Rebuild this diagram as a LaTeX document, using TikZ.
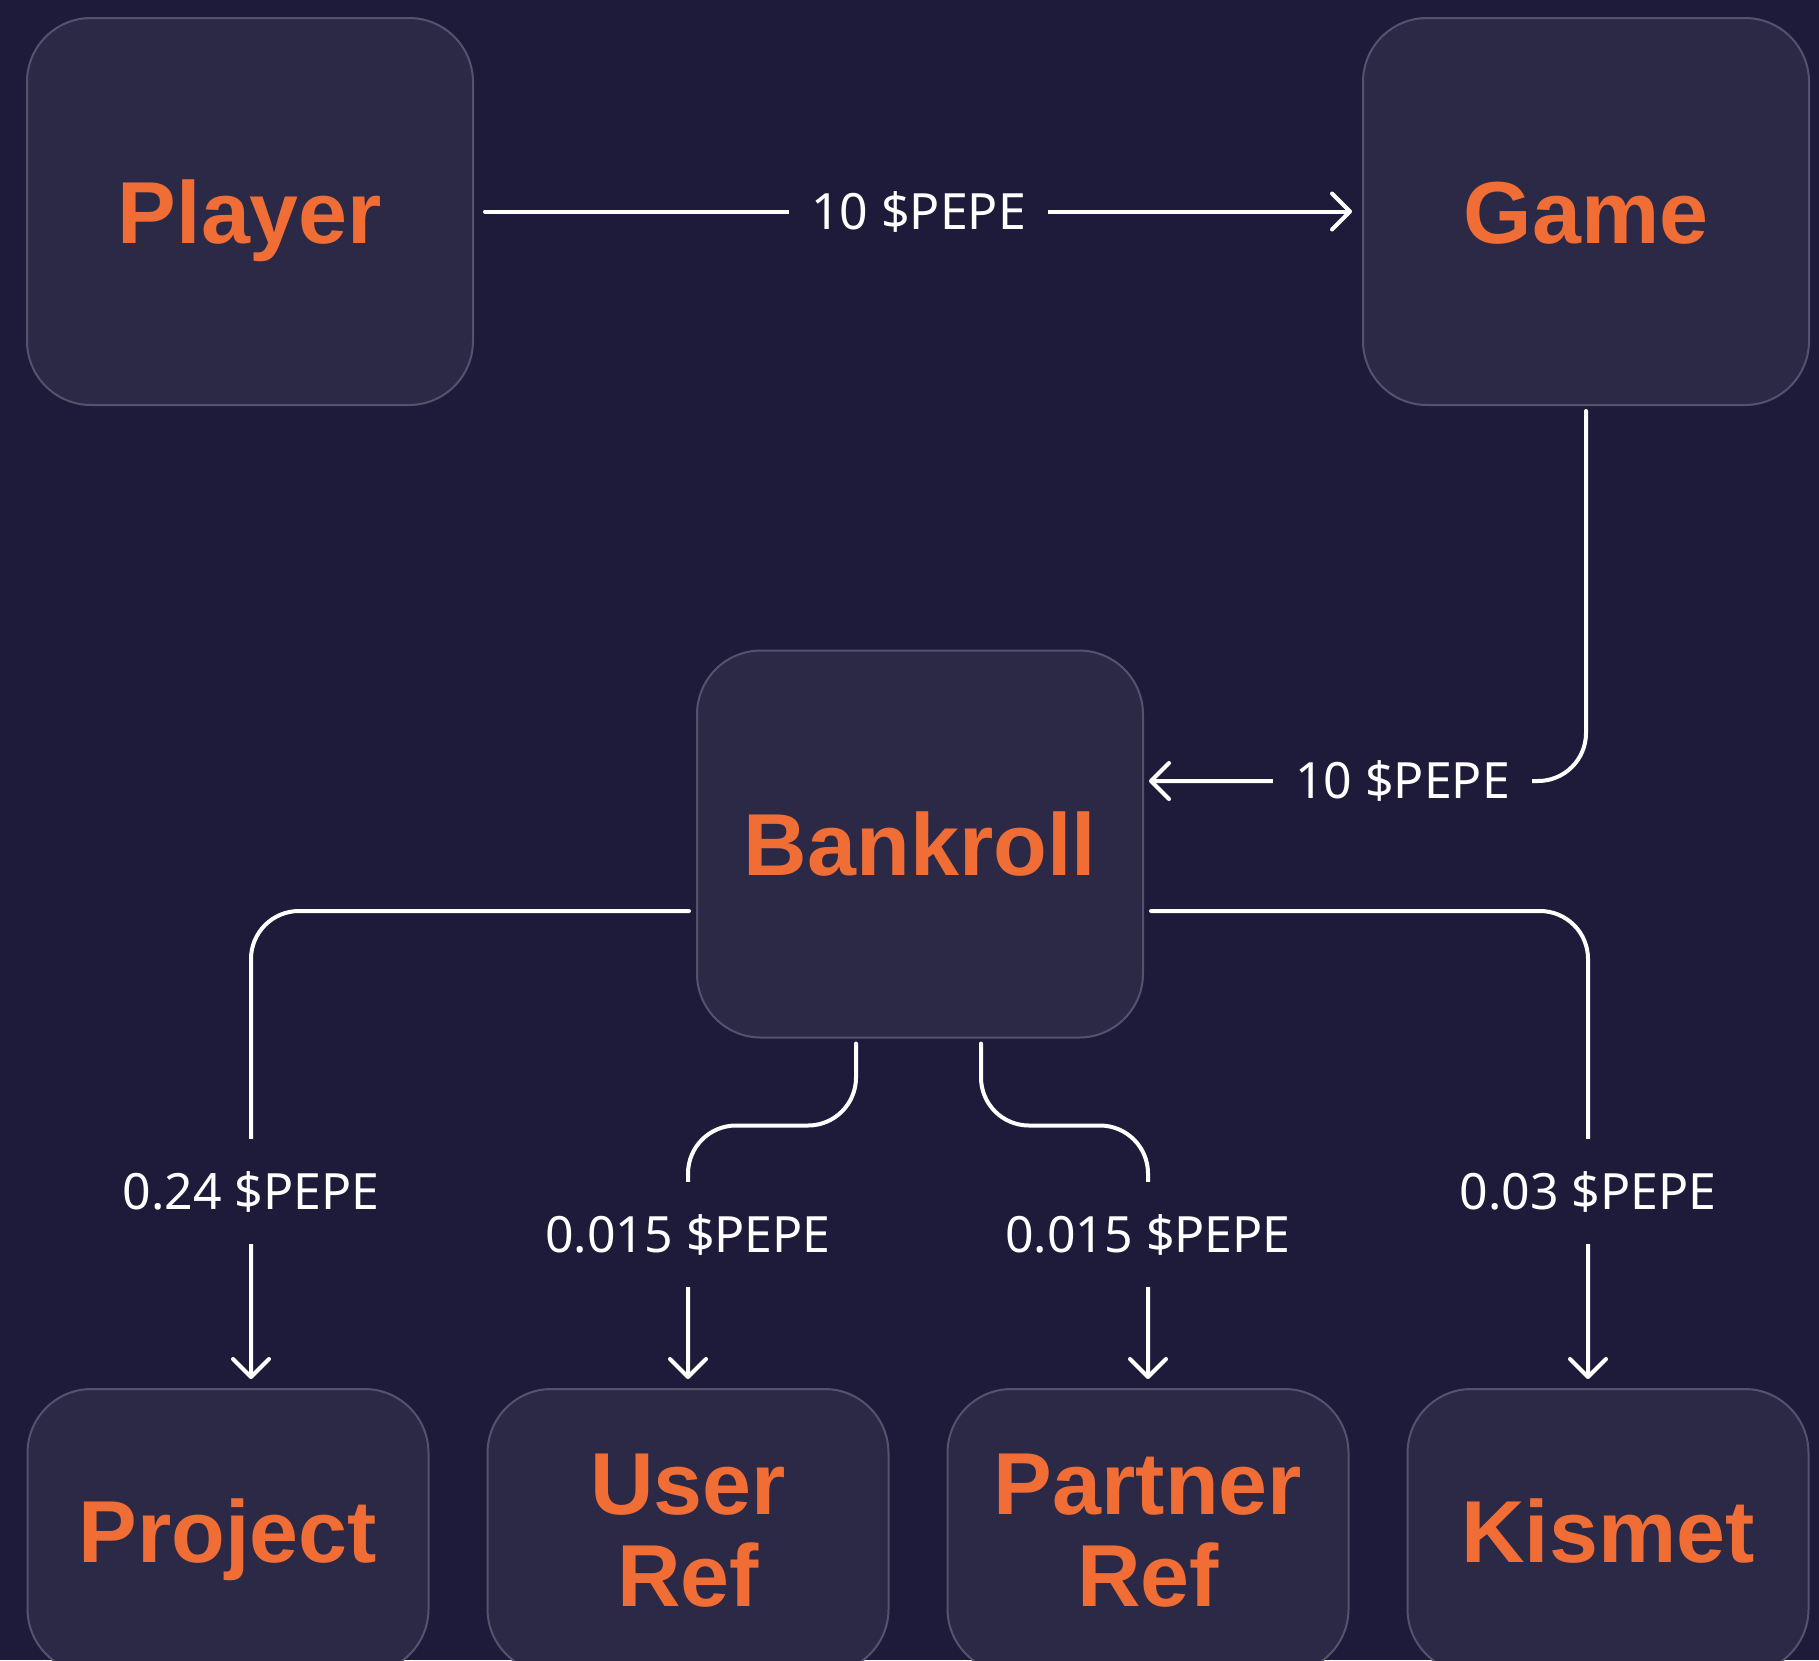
\documentclass[tikz,border=0pt]{standalone}
\usepackage{fontspec}
\setmainfont{Noto Sans}
\newfontfamily\titulo{Liberation Sans}
\usepackage{tikz}
\usetikzlibrary{arrows.meta,positioning}
\definecolor{fondo}{HTML}{1E1B3A}
\definecolor{caja}{HTML}{2C2947}
\definecolor{borde}{HTML}{55526E}
\definecolor{naranja}{HTML}{F06E35}
\tikzstyle{exterior}=[rectangle,rounded corners=32pt,draw=borde,line width=1pt,fill=caja,text=naranja,align=center,font=\titulo\fontsize{44}{46}\selectfont\bfseries]
\tikzstyle{linea}=[text height=40.5pt,text depth=9pt]
\tikzstyle{bloque}=[exterior,linea,minimum width=223pt,minimum height=193.5pt]
\tikzstyle{destino}=[exterior,minimum width=200.5pt,minimum height=142pt]
\tikzstyle{flujo}=[-{Straight Barb[length=9pt,width=18pt,round]},draw=white,line width=2pt,line cap=round,rounded corners=24pt]
\tikzstyle{cantidad}=[rectangle,sharp corners,fill=fondo,text=white,inner xsep=11pt,inner ysep=16pt,font=\fontsize{25}{30}\selectfont]

\begin{document}
\begin{tikzpicture}
	\fill[fondo] (0,0) rectangle (909.5pt,-830pt);
	\useasboundingbox (0,0) rectangle (909.5pt,-830pt);
	\node[bloque] (player) at (125pt,-105.75pt) {Player};
	\node[bloque] (game) [right=444pt of player] {Game};
	\node[bloque] (bankroll) at (460pt,-422pt) {Bankroll};
	\node[destino,linea] (project) at (114pt,-765.5pt) {Project};
	\node[destino] (userref) [right=28.5pt of project] {User\\Ref};
	\node[destino] (partnerref) [right=28.5pt of userref] {Partner\\Ref};
	\node[destino,linea] (kismet) [right=28.5pt of partnerref] {Kismet};
	\draw[flujo] ([xshift=5.5pt]player.east) -- node[cantidad] {10 \$PEPE} ([xshift=-5pt]game.west);
	\draw[flujo] ([yshift=-2.5pt]game.south) |- node[cantidad,pos=0.71] {10 \$PEPE} ([xshift=2.5pt,yshift=31.5pt]bankroll.east);
	\draw[flujo] ([xshift=-3.5pt,yshift=-33.5pt]bankroll.west) -| node[cantidad,pos=0.8] {0.24 \$PEPE} ([xshift=11.5pt,yshift=4.5pt]project.north);
	\draw[flujo] ([xshift=-32pt,yshift=-2.5pt]bankroll.south) -- ++(0,-41pt) -| node[cantidad,pos=0.715] {0.015 \$PEPE} ([yshift=4.5pt]userref.north);
	\draw[flujo] ([xshift=30.5pt,yshift=-2.5pt]bankroll.south) -- ++(0,-41pt) -| node[cantidad,pos=0.715] {0.015 \$PEPE} ([yshift=4.5pt]partnerref.north);
	\draw[flujo] ([xshift=3.5pt,yshift=-33.5pt]bankroll.east) -| node[cantidad,pos=0.8] {0.03 \$PEPE} ([xshift=-10pt,yshift=4.5pt]kismet.north);
\end{tikzpicture}
\end{document}
